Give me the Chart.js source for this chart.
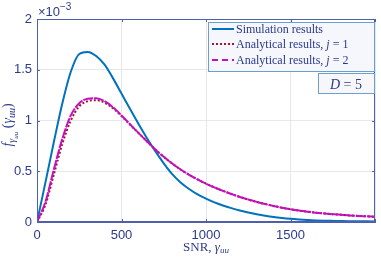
<!DOCTYPE html>
<html lang="en">
<head>
  <meta charset="UTF-8">
  <title>PDF of SNR</title>
  <script src="https://cdn.jsdelivr.net/npm/chart.js"></script>
  <style>
    body { margin: 0; background: #fff; }
    canvas { display: block; }
  </style>
</head>
<body>

<canvas id="pdfChart" width="381" height="258"></canvas>

<script>
  // SNR grid (x values)
  const snr = [0, 50, 100, 150, 200, 250, 300, 350, 400, 450, 500, 550, 600, 650, 700, 750, 800, 850, 900, 950,
    1000, 1050, 1100, 1150, 1200, 1250, 1300, 1350, 1400, 1450, 1500, 1550, 1600, 1650, 1700, 1750, 1800, 1850, 1900, 1950, 2000];

  // values, in units of 1e-3
  const simulation = [0, 0.39, 0.79, 1.17, 1.48, 1.655, 1.675, 1.635, 1.55, 1.415, 1.265, 1.115, 0.968, 0.828, 0.698, 0.578, 0.472, 0.39, 0.325, 0.272,
    0.23, 0.193, 0.163, 0.137, 0.114, 0.094, 0.077, 0.062, 0.049, 0.039, 0.031, 0.025, 0.02, 0.016, 0.013, 0.011, 0.0095, 0.0083, 0.0073, 0.0065, 0.006];
  const analyticJ1 = [0, 0.17, 0.47, 0.77, 1.0, 1.14, 1.19, 1.2, 1.175, 1.12, 1.045, 0.96, 0.878, 0.795, 0.715, 0.642, 0.576, 0.517, 0.465, 0.419,
    0.378, 0.341, 0.307, 0.276, 0.247, 0.221, 0.198, 0.177, 0.158, 0.141, 0.126, 0.113, 0.102, 0.092, 0.084, 0.077, 0.071, 0.065, 0.06, 0.056, 0.052];
  const analyticJ2 = [0, 0.2, 0.52, 0.82, 1.05, 1.17, 1.215, 1.22, 1.19, 1.13, 1.05, 0.963, 0.878, 0.795, 0.715, 0.642, 0.576, 0.517, 0.465, 0.419,
    0.378, 0.341, 0.307, 0.276, 0.247, 0.221, 0.198, 0.177, 0.158, 0.141, 0.126, 0.113, 0.102, 0.092, 0.084, 0.077, 0.071, 0.065, 0.06, 0.056, 0.052];

  const xTicks = [0, 500, 1000, 1500, 2000];
  const xTickLabels = ['0', '500', '1000', '1500', ''];
  const yTickLabels = ['0', '0.5', '1', '1.5', '2'];

  const legendLabels = [
    [{ t: 'Simulation results' }],
    [{ t: 'Analytical results, ' }, { t: 'j', it: true }, { t: ' = 1' }],
    [{ t: 'Analytical results, ' }, { t: 'j', it: true }, { t: ' = 2' }]
  ];

  const axisColor = '#4e5fae';
  const textColor = '#2b3a8c';
  const serif = '"Liberation Serif", "DejaVu Serif", serif';
  const sans = '"Liberation Sans", Arial, sans-serif';

  const toPoints = ys => snr.map((x, i) => ({ x: x, y: ys[i] }));

  // draw a run of text pieces one after another
  function richText(ctx, x, y, parts, size) {
    parts.forEach(p => {
      const s = p.size || size;
      ctx.font = (p.it ? 'italic ' : '') + s + 'px ' + serif;
      ctx.fillText(p.t, x, y + (p.dy || 0));
      x += ctx.measureText(p.t).width;
    });
    return x;
  }
  function richWidth(ctx, parts, size) {
    let w = 0;
    parts.forEach(p => {
      ctx.font = (p.it ? 'italic ' : '') + (p.size || size) + 'px ' + serif;
      w += ctx.measureText(p.t).width;
    });
    return w;
  }

  const decorations = {
    id: 'decorations',
    afterDraw(chart) {
      const ctx = chart.ctx;
      const a = chart.chartArea;
      const xs = chart.scales.x, ys = chart.scales.y;
      ctx.save();

      // box and inward ticks
      ctx.strokeStyle = axisColor;
      ctx.lineWidth = 1;
      ctx.strokeRect(a.left + 0.5, a.top + 0.5, a.right - a.left - 1, a.bottom - a.top - 1);
      ctx.beginPath();
      xTicks.forEach(v => {
        const px = Math.round(xs.getPixelForValue(v)) + 0.5;
        ctx.moveTo(px, a.bottom); ctx.lineTo(px, a.bottom - 3);
        ctx.moveTo(px, a.top); ctx.lineTo(px, a.top + 3);
      });
      [0, 0.5, 1, 1.5, 2].forEach(v => {
        const py = Math.round(ys.getPixelForValue(v)) + 0.5;
        ctx.moveTo(a.left, py); ctx.lineTo(a.left + 3, py);
        ctx.moveTo(a.right, py); ctx.lineTo(a.right - 3, py);
      });
      ctx.stroke();

      ctx.fillStyle = textColor;
      ctx.textBaseline = 'alphabetic';

      // exponent label
      ctx.font = '13px ' + sans;
      ctx.fillText('\u00d710', 38, 16);
      ctx.font = '10px ' + sans;
      ctx.fillText('\u22123', 60, 10);

      // x axis title
      const xTitle = [{ t: 'SNR, ' }, { t: '\u03b3', it: true }, { t: 'uu', it: true, size: 9, dy: 2 }];
      const xw = richWidth(ctx, xTitle, 13);
      richText(ctx, (a.left + a.right) / 2 - xw / 2, 251, xTitle, 13);

      // y axis title, rotated
      const yTitle = [
        { t: 'f', it: true },
        { t: '\u03b3', it: true, size: 10, dy: 3 },
        { t: 'uu', it: true, size: 7, dy: 6 },
        { t: ' (' },
        { t: '\u03b3', it: true },
        { t: 'uu', it: true, size: 10, dy: 3 },
        { t: ')' }
      ];
      ctx.save();
      ctx.translate(12, 125);
      ctx.rotate(-Math.PI / 2);
      const yw = richWidth(ctx, yTitle, 14);
      richText(ctx, -yw / 2, 0, yTitle, 14);
      ctx.restore();

      // legend box
      ctx.fillStyle = '#f5f7fc';
      ctx.fillRect(208, 22, 166, 49);
      ctx.strokeStyle = '#6a9fd4';
      ctx.strokeRect(208.5, 22.5, 166, 49);
      const rows = [33, 48, 64];
      ctx.lineWidth = 2;
      chart.data.datasets.forEach(ds => {
        const r = ds.legendIndex;
        ctx.strokeStyle = ds.borderColor;
        ctx.setLineDash(r === 2 ? [6, 4] : (ds.borderDash || []));
        ctx.beginPath();
        ctx.moveTo(212, rows[r] - 4);
        ctx.lineTo(234, rows[r] - 4);
        ctx.stroke();
      });
      ctx.setLineDash([]);
      ctx.fillStyle = textColor;
      legendLabels.forEach((parts, r) => richText(ctx, 236, rows[r], parts, 12));

      // D = 5 box
      ctx.fillStyle = '#f7f7fa';
      ctx.fillRect(318, 73, 56, 20);
      ctx.strokeStyle = '#6a9fd4';
      ctx.lineWidth = 1;
      ctx.strokeRect(318.5, 73.5, 56, 20);
      ctx.fillStyle = textColor;
      const dText = [{ t: 'D', it: true }, { t: ' = 5' }];
      const dw = richWidth(ctx, dText, 14);
      richText(ctx, 346 - dw / 2, 89, dText, 14);

      ctx.restore();
    }
  };

  const ctx = document.getElementById('pdfChart').getContext('2d');
  const chart = new Chart(ctx, {
    type: 'line',
    data: {
      datasets: [{
        label: 'Analytical results, j = 2',
        legendIndex: 2,
        data: toPoints(analyticJ2),
        borderColor: '#c40fc0',
        borderWidth: 2,
        borderDash: [10, 1],
        order: 0
      }, {
        label: 'Analytical results, j = 1',
        legendIndex: 1,
        data: toPoints(analyticJ1),
        borderColor: '#a2142f',
        borderWidth: 2,
        borderDash: [2, 2],
        order: 1
      }, {
        label: 'Simulation results',
        legendIndex: 0,
        data: toPoints(simulation),
        borderColor: '#0072bd',
        borderWidth: 2,
        order: 2
      }]
    },
    options: {
      responsive: false,
      animation: false,
      devicePixelRatio: 1,
      layout: { padding: { left: 0, right: 2, top: 19, bottom: 0 } },
      elements: {
        point: { radius: 0 },
        line: { cubicInterpolationMode: 'monotone', fill: false }
      },
      plugins: {
        legend: { display: false },
        tooltip: { enabled: false }
      },
      scales: {
        x: {
          type: 'linear',
          min: 0,
          max: 2000,
          afterFit: s => { s.height = 36; },
          afterBuildTicks: s => { s.ticks = xTicks.map(v => ({ value: v })); },
          ticks: {
            padding: 6,
            color: textColor,
            font: { family: sans, size: 13 },
            maxRotation: 0,
            callback: (v, i) => xTickLabels[i]
          },
          grid: { color: '#e4e7f0', drawTicks: false },
          border: { color: axisColor }
        },
        y: {
          min: 0,
          max: 2,
          afterFit: s => { s.width = 37; },
          ticks: {
            stepSize: 0.5,
            padding: 5,
            color: textColor,
            font: { family: sans, size: 13 },
            callback: (v, i) => yTickLabels[i]
          },
          grid: { color: '#e4e7f0', drawTicks: false },
          border: { color: axisColor }
        }
      }
    },
    plugins: [decorations]
  });
</script>

</body>
</html>
